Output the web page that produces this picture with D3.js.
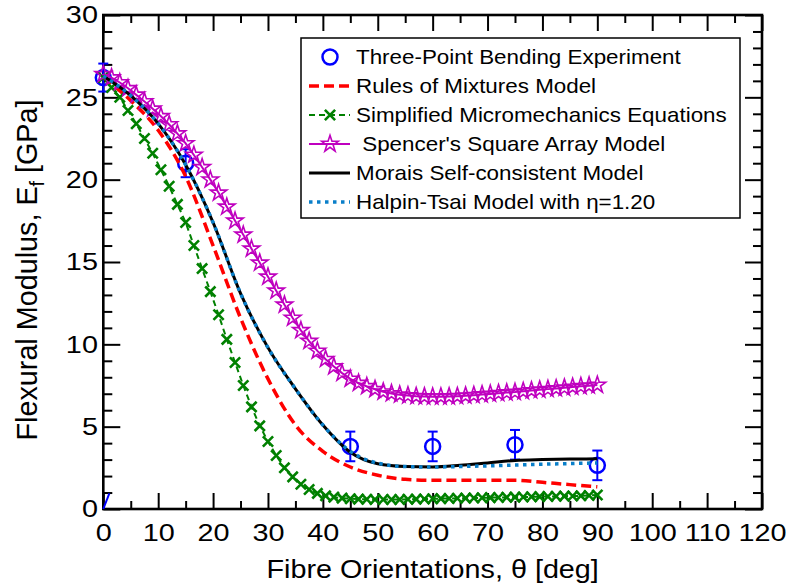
<!DOCTYPE html>
<html>
<head>
<meta charset="utf-8">
<script src="https://cdn.jsdelivr.net/npm/d3@7"></script>
<style>
  html, body { margin: 0; padding: 0; background: #fff; }
  svg { display: block; font-family: "Liberation Sans", Arial, sans-serif; }
</style>
</head>
<body>
<svg id="chart" width="786" height="588"></svg>
<script>
// values
const expAngle = [0, 15, 45, 60, 75, 90];
const expModulus = [26.2, 21.0, 3.8, 3.8, 3.9, 2.65];
const expError = [0.85, 0.85, 0.9, 0.9, 0.9, 0.9];

const modelAngle = [0, 5, 10, 15, 20, 25, 30, 35, 40, 45, 50, 55, 60, 65, 70, 75, 80, 85, 90];
const romModulus = [26.2, 24.8, 23.0, 20.2, 16.0, 11.6, 7.9, 5.1, 3.5, 2.55, 2.05, 1.8, 1.75, 1.75, 1.75, 1.75, 1.62, 1.48, 1.35];
const moraisModulus = [26.3, 25.1, 23.4, 20.9, 17.4, 13.1, 9.8, 7.3, 5.1, 3.45, 2.75, 2.58, 2.55, 2.65, 2.8, 2.95, 3.0, 3.03, 3.05];
const halpinModulus = [26.3, 25.1, 23.4, 20.9, 17.4, 13.1, 9.8, 7.3, 5.1, 3.5, 2.78, 2.58, 2.55, 2.58, 2.62, 2.67, 2.72, 2.76, 2.8];

// the two marker series are sampled every 1.5 deg
const markerAngle = [0, 1.5, 3, 4.5, 6, 7.5, 9, 10.5, 12, 13.5, 15, 16.5, 18, 19.5, 21, 22.5, 24, 25.5, 27, 28.5,
  30, 31.5, 33, 34.5, 36, 37.5, 39, 40.5, 42, 43.5, 45, 46.5, 48, 49.5, 51, 52.5, 54, 55.5, 57, 58.5,
  60, 61.5, 63, 64.5, 66, 67.5, 69, 70.5, 72, 73.5, 75, 76.5, 78, 79.5, 81, 82.5, 84, 85.5, 87, 88.5, 90];
const smeModulus = [26.2, 25.6, 25.0, 24.2, 23.4, 22.5, 21.6, 20.6, 19.6, 18.5,
  17.4, 16.0, 14.6, 13.2, 11.8, 10.3, 8.9, 7.5, 6.2, 5.05,
  4.1, 3.25, 2.5, 1.95, 1.5, 1.18, 0.95, 0.8, 0.72, 0.66,
  0.62, 0.6, 0.59, 0.58, 0.58, 0.58, 0.58, 0.59, 0.6, 0.61,
  0.62, 0.63, 0.64, 0.65, 0.66, 0.67, 0.68, 0.69, 0.7, 0.71,
  0.72, 0.73, 0.74, 0.75, 0.76, 0.77, 0.78, 0.79, 0.8, 0.82, 0.85];
const spencerModulus = [26.4, 26.2, 25.9, 25.55, 25.15, 24.75, 24.3, 23.85, 23.35, 22.8,
  22.2, 21.5, 20.75, 20.0, 19.2, 18.35, 17.5, 16.65, 15.8, 14.95,
  14.1, 13.25, 12.4, 11.6, 10.85, 10.2, 9.6, 9.1, 8.65, 8.25,
  7.9, 7.65, 7.45, 7.27, 7.12, 7.02, 6.94, 6.89, 6.85, 6.83,
  6.82, 6.82, 6.83, 6.85, 6.88, 6.91, 6.95, 6.99, 7.03, 7.07,
  7.1, 7.15, 7.2, 7.24, 7.28, 7.32, 7.36, 7.41, 7.45, 7.49, 7.53];

// little blue stroke near the origin in the original
const strayAngle = [0, 1.1];
const strayModulus = [0, 0.95];

const xTicks = [0, 10, 20, 30, 40, 50, 60, 70, 80, 90, 100, 110, 120];
const yTicks = [0, 5, 10, 15, 20, 25, 30];

const legendLabels = [
  'Three-Point Bending Experiment',
  'Rules of Mixtures Model',
  'Simplified Micromechanics Equations',
  ' Spencer\'s Square Array Model',
  'Morais Self-consistent Model',
  'Halpin-Tsai Model with \u03b7=1.20'
];

const RED = '#ff0000', GREEN = '#008000', MAGENTA = '#bf00bf', BLUE = '#0000ff', DOT = '#0a7fc9';
// text in the original is wider than plain Arial
const ST_TICK = 1.2, ST_TITLE = 1.15, ST_LEG = 1.12;

const svg = d3.select('#chart');
const x = d3.scaleLinear().domain([0, 120]).range([103.3, 762]);
const y = d3.scaleLinear().domain([0, 30]).range([509, 15]);

// axes, ticks point inward on all four sides
function styleAxis(g, labels) {
  g.select('.domain').remove();
  g.selectAll('.tick line').attr('stroke', '#000').attr('stroke-width', 2);
  if (labels) {
    g.selectAll('.tick text')
      .attr('fill', '#000')
      .attr('font-size', 24)
      .attr('font-family', '"Liberation Sans", Arial, sans-serif')
      .attr('transform', `scale(${ST_TICK},1)`);
  }
}

const xMinor = d3.range(5, 120, 10);
const yMinor = d3.range(1, 30, 1).filter(v => v % 5 !== 0);

svg.append('g').attr('transform', `translate(0,${y(0)})`)
  .call(d3.axisBottom(x).tickValues(xTicks).tickSizeInner(-16).tickSizeOuter(0).tickPadding(15))
  .call(g => styleAxis(g, true));
svg.append('g').attr('transform', `translate(0,${y(0)})`)
  .call(d3.axisBottom(x).tickValues(xMinor).tickSizeInner(-8).tickSizeOuter(0).tickFormat(''))
  .call(g => styleAxis(g, false));
svg.append('g').attr('transform', `translate(0,${y(30)})`)
  .call(d3.axisTop(x).tickValues(xTicks).tickSizeInner(-16).tickSizeOuter(0).tickFormat(''))
  .call(g => styleAxis(g, false));
svg.append('g').attr('transform', `translate(0,${y(30)})`)
  .call(d3.axisTop(x).tickValues(xMinor).tickSizeInner(-8).tickSizeOuter(0).tickFormat(''))
  .call(g => styleAxis(g, false));

svg.append('g').attr('transform', `translate(${x(0)},0)`)
  .call(d3.axisLeft(y).tickValues(yTicks).tickSizeInner(-17).tickSizeOuter(0).tickPadding(4.5))
  .call(g => styleAxis(g, true));
svg.append('g').attr('transform', `translate(${x(0)},0)`)
  .call(d3.axisLeft(y).tickValues(yMinor).tickSizeInner(-9).tickSizeOuter(0).tickFormat(''))
  .call(g => styleAxis(g, false));
svg.append('g').attr('transform', `translate(${x(120)},0)`)
  .call(d3.axisRight(y).tickValues(yTicks).tickSizeInner(-17).tickSizeOuter(0).tickFormat(''))
  .call(g => styleAxis(g, false));
svg.append('g').attr('transform', `translate(${x(120)},0)`)
  .call(d3.axisRight(y).tickValues(yMinor).tickSizeInner(-9).tickSizeOuter(0).tickFormat(''))
  .call(g => styleAxis(g, false));

svg.append('rect')
  .attr('x', x(0)).attr('y', y(30))
  .attr('width', x(120) - x(0)).attr('height', y(0) - y(30))
  .attr('fill', 'none').attr('stroke', '#000').attr('stroke-width', 2.6);

// axis titles
svg.append('text')
  .attr('transform', `translate(${(x(0) + x(120)) / 2},578) scale(${ST_TITLE},1)`)
  .attr('text-anchor', 'middle').attr('font-size', 25).attr('fill', '#000')
  .text('Fibre Orientations, \u03b8 [deg]');

const yTitle = svg.append('text')
  .attr('transform', `translate(37,${(y(0) + y(30)) / 2 + 8}) rotate(-90) scale(${ST_TITLE},${ST_TITLE})`)
  .attr('text-anchor', 'middle').attr('font-size', 25).attr('fill', '#000');
yTitle.append('tspan').text('Flexural Modulus, E');
yTitle.append('tspan').attr('font-size', 17).attr('dy', 6).text('f');
yTitle.append('tspan').attr('dy', -6).text(' [GPa]');

// data
const zip = (a, b) => a.map((v, i) => [v, b[i]]);
const line = d3.line().x(d => x(d[0])).y(d => y(d[1]));
const smooth = d3.line().x(d => x(d[0])).y(d => y(d[1])).curve(d3.curveMonotoneX);

const starSym = d3.symbol(d3.symbolStar, 85);
const xSym = d3.symbol(d3.symbolX, 70);

// experiment (drawn first, the model markers sit over it)
const expData = expAngle.map((a, i) => ({ a, v: expModulus[i], e: expError[i] }));
const exp = svg.append('g').attr('stroke', BLUE).attr('fill', 'none');
exp.selectAll('line.bar').data(expData).join('line').attr('class', 'bar')
  .attr('x1', d => x(d.a)).attr('x2', d => x(d.a))
  .attr('y1', d => y(d.v - d.e)).attr('y2', d => y(d.v + d.e)).attr('stroke-width', 2);
exp.selectAll('line.cap-lo').data(expData).join('line').attr('class', 'cap-lo')
  .attr('x1', d => x(d.a) - 5).attr('x2', d => x(d.a) + 5)
  .attr('y1', d => y(d.v - d.e)).attr('y2', d => y(d.v - d.e)).attr('stroke-width', 2);
exp.selectAll('line.cap-hi').data(expData).join('line').attr('class', 'cap-hi')
  .attr('x1', d => x(d.a) - 5).attr('x2', d => x(d.a) + 5)
  .attr('y1', d => y(d.v + d.e)).attr('y2', d => y(d.v + d.e)).attr('stroke-width', 2);
exp.selectAll('circle').data(expData).join('circle')
  .attr('cx', d => x(d.a)).attr('cy', d => y(d.v)).attr('r', 7.5).attr('stroke-width', 2.5);

svg.append('path').attr('d', line(zip(strayAngle, strayModulus)))
  .attr('fill', 'none').attr('stroke', BLUE).attr('stroke-width', 2);

// rules of mixtures
svg.append('path').attr('d', smooth(zip(modelAngle, romModulus)))
  .attr('fill', 'none').attr('stroke', RED).attr('stroke-width', 3.5).attr('stroke-dasharray', '10,5');

// simplified micromechanics
const sme = zip(markerAngle, smeModulus);
svg.append('path').attr('d', line(sme))
  .attr('fill', 'none').attr('stroke', GREEN).attr('stroke-width', 2).attr('stroke-dasharray', '6,4');
svg.append('g').selectAll('path').data(sme).join('path')
  .attr('d', xSym).attr('transform', d => `translate(${x(d[0])},${y(d[1])})`)
  .attr('fill', 'none').attr('stroke', GREEN).attr('stroke-width', 2.6);

// spencer
const spencer = zip(markerAngle, spencerModulus);
svg.append('path').attr('d', line(spencer))
  .attr('fill', 'none').attr('stroke', MAGENTA).attr('stroke-width', 2);
svg.append('g').selectAll('path').data(spencer).join('path')
  .attr('d', starSym).attr('transform', d => `translate(${x(d[0])},${y(d[1])})`)
  .attr('fill', 'none').attr('stroke', MAGENTA).attr('stroke-width', 1.6);

// morais
svg.append('path').attr('d', smooth(zip(modelAngle, moraisModulus)))
  .attr('fill', 'none').attr('stroke', '#000').attr('stroke-width', 3);

// halpin-tsai
svg.append('path').attr('d', smooth(zip(modelAngle, halpinModulus)))
  .attr('fill', 'none').attr('stroke', DOT).attr('stroke-width', 3.5).attr('stroke-dasharray', '3.5,4.5');

// legend
const lg = svg.append('g');
lg.append('rect').attr('x', 301).attr('y', 38).attr('width', 439).attr('height', 180)
  .attr('fill', '#fff').attr('stroke', '#000').attr('stroke-width', 1.5);

const rowY = i => 57 + i * 29;
const sx0 = 309, sx1 = 350, smid = 330;

lg.append('circle').attr('cx', smid).attr('cy', rowY(0)).attr('r', 7.5)
  .attr('fill', 'none').attr('stroke', BLUE).attr('stroke-width', 2.5);
lg.append('line').attr('x1', sx0).attr('x2', sx1).attr('y1', rowY(1)).attr('y2', rowY(1))
  .attr('stroke', RED).attr('stroke-width', 3.5).attr('stroke-dasharray', '10,5');
lg.append('line').attr('x1', sx0).attr('x2', sx1).attr('y1', rowY(2)).attr('y2', rowY(2))
  .attr('stroke', GREEN).attr('stroke-width', 2).attr('stroke-dasharray', '6,4');
lg.append('path').attr('d', xSym).attr('transform', `translate(${smid},${rowY(2)})`)
  .attr('fill', 'none').attr('stroke', GREEN).attr('stroke-width', 2.6);
lg.append('line').attr('x1', sx0).attr('x2', sx1).attr('y1', rowY(3)).attr('y2', rowY(3))
  .attr('stroke', MAGENTA).attr('stroke-width', 2);
lg.append('path').attr('d', starSym).attr('transform', `translate(${smid},${rowY(3)})`)
  .attr('fill', 'none').attr('stroke', MAGENTA).attr('stroke-width', 1.6);
lg.append('line').attr('x1', sx0).attr('x2', sx1).attr('y1', rowY(4)).attr('y2', rowY(4))
  .attr('stroke', '#000').attr('stroke-width', 3);
lg.append('line').attr('x1', sx0).attr('x2', sx1).attr('y1', rowY(5)).attr('y2', rowY(5))
  .attr('stroke', DOT).attr('stroke-width', 3.5).attr('stroke-dasharray', '3.5,4.5');

lg.selectAll('text').data(legendLabels).join('text')
  .attr('transform', (d, i) => `translate(356,${rowY(i) + 7}) scale(${ST_LEG},1)`)
  .attr('font-size', 20).attr('fill', '#000')
  .style('white-space', 'pre')
  .text(d => d);
</script>
</body>
</html>
